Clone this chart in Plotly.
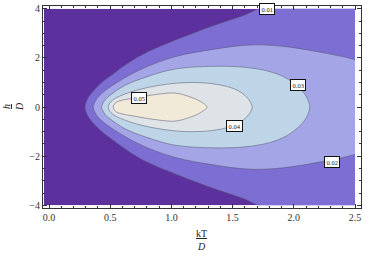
import plotly.graph_objects as go

# ---------------- data ----------------
# extent of the filled field, kT/D horizontally and h/D vertically
T_EXTENT = [-0.04, 2.5]
H_EXTENT = [-4.0, 4.0]

# contour levels and the upper half of each contour line: kT/D -> h/D
# (the field is symmetric in h, the lower half is the mirror image)
LEVELS = [0.01, 0.02, 0.03, 0.04, 0.05]

T_001 = [0.294, 0.30, 0.32, 0.376, 0.45, 0.525, 0.62, 0.73, 0.85, 1.07, 1.34, 1.615, 1.71, 2.0, 2.5, 3.0]
H_001 = [0.00, 0.15, 0.38, 0.73, 1.08, 1.35, 1.70, 2.05, 2.35, 2.80, 3.31, 3.78, 4.00, 4.45, 5.0, 5.5]

T_002 = [0.362, 0.37, 0.39, 0.43, 0.54, 0.757, 1.03, 1.34, 1.64, 1.90, 2.2, 2.5, 2.75, 3.0]
H_002 = [0.00, 0.15, 0.33, 0.55, 0.95, 1.55, 2.05, 2.35, 2.53, 2.48, 2.25, 1.93, 1.5, 1.0]

T_003 = [0.43, 0.44, 0.46, 0.50, 0.62, 0.81, 1.03, 1.35, 1.60, 1.80, 1.93, 2.03, 2.10, 2.13]
H_003 = [0.00, 0.15, 0.30, 0.48, 0.88, 1.25, 1.55, 1.66, 1.62, 1.45, 1.20, 0.85, 0.45, 0.00]

T_004 = [0.485, 0.495, 0.52, 0.566, 0.757, 1.03, 1.25, 1.40, 1.515, 1.60, 1.66]
H_004 = [0.00, 0.15, 0.28, 0.42, 0.74, 0.97, 0.99, 0.90, 0.74, 0.48, 0.00]

T_005 = [0.525, 0.535, 0.56, 0.733, 0.90, 1.03, 1.15, 1.24, 1.29]
H_005 = [0.00, 0.12, 0.22, 0.40, 0.53, 0.57, 0.42, 0.22, 0.00]

CONTOURS_T = [T_001, T_002, T_003, T_004, T_005]
CONTOURS_H = [H_001, H_002, H_003, H_004, H_005]
CLOSED = [False, False, True, True, True]

# contour labels: text and the point of the line where each sits
LABEL_TEXT = ["0.01", "0.02", "0.03", "0.04", "0.05"]
LABEL_T = [1.785, 2.312, 2.034, 1.515, 0.733]
LABEL_H = [4.0, -2.25, 0.896, -0.757, 0.37]

# ---------------- style ----------------
BAND_COLORS = ["#5d319d", "#7d6ed3", "#a4a5e6", "#bed5e8", "#dde3e6", "#f2ead8"]
LINE_COLOR = "rgba(85,85,110,0.65)"
FONT = "Liberation Serif"
W, H = 382, 265


def ring(ts, hs, closed):
    """Closed outline of one contour region from its upper half."""
    n = len(ts)
    upper = list(zip(ts, hs))
    if closed:
        lower = [(t, -h) for t, h in zip(ts[-2:0:-1], hs[-2:0:-1])]
        pts = upper + lower
        # start on the flat top of the contour so the path closes smoothly
        k = max(range(n), key=lambda i: hs[i])
        pts = pts[k:] + pts[:k]
        pts = pts + [pts[0]]
    else:
        lower = [(t, -h) for t, h in zip(ts[::-1], hs[::-1])]
        pts = lower + upper
    return [p[0] for p in pts], [p[1] for p in pts]


fig = go.Figure()

# background band (below the lowest level)
fig.add_trace(go.Scatter(
    x=[T_EXTENT[0], T_EXTENT[1], T_EXTENT[1], T_EXTENT[0], T_EXTENT[0]],
    y=[H_EXTENT[0], H_EXTENT[0], H_EXTENT[1], H_EXTENT[1], H_EXTENT[0]],
    mode="lines", fill="toself", fillcolor=BAND_COLORS[0],
    line=dict(width=0), hoverinfo="skip", showlegend=False,
    xaxis="x", yaxis="y"))

for i, lev in enumerate(LEVELS):
    xs, ys = ring(CONTOURS_T[i], CONTOURS_H[i], CLOSED[i])
    fig.add_trace(go.Scatter(
        x=xs, y=ys, mode="lines", fill="toself",
        fillcolor=BAND_COLORS[i + 1],
        line=dict(color=LINE_COLOR, width=0.8, shape="spline", smoothing=1.0),
        hoverinfo="skip", showlegend=False, name=str(lev),
        xaxis="x", yaxis="y"))

# empty trace so that the frame subplot is drawn
fig.add_trace(go.Scatter(x=[None], y=[None], xaxis="x2", yaxis="y2",
                         showlegend=False, hoverinfo="skip"))

for txt, t, h in zip(LABEL_TEXT, LABEL_T, LABEL_H):
    fig.add_annotation(x=t, y=h, xref="x", yref="y", text=txt, showarrow=False,
                       font=dict(family=FONT, size=6.5, color="#222"),
                       bgcolor="white", bordercolor="#111", borderwidth=1, borderpad=1.5)

# axis titles as stacked fractions
fig.add_annotation(x=202 / W, y=(H - 242) / H, xref="paper", yref="paper",
                   text="<u>kT</u><br><i>D</i>", showarrow=False,
                   font=dict(family=FONT, size=10, color="#222"),
                   xanchor="center", yanchor="middle")
fig.add_annotation(x=13 / W, y=(H - 106.5) / H, xref="paper", yref="paper",
                   text="<u><i>h</i></u><br><i>D</i>", showarrow=False, textangle=-90,
                   font=dict(family=FONT, size=10, color="#222"),
                   xanchor="center", yanchor="middle")

# data axes: exactly the filled region
fig.update_layout(
    xaxis=dict(domain=[44 / W, 355 / W], range=T_EXTENT, visible=False, fixedrange=True),
    yaxis=dict(domain=[(H - 207) / H, (H - 6) / H], range=H_EXTENT, visible=False,
               anchor="x", fixedrange=True),
    # frame axes with ticks
    xaxis2=dict(domain=[43 / W, 361 / W], range=[-0.049, 2.549], anchor="y2",
                showline=True, linecolor="#333", linewidth=1, mirror="ticks",
                ticks="inside", ticklen=4, tickcolor="#333", tickwidth=1,
                tick0=0, dtick=0.5, tickformat=".1f", showgrid=False, zeroline=False,
                tickfont=dict(family=FONT, size=10, color="#333"), fixedrange=True,
                minor=dict(ticks="inside", ticklen=2, dtick=0.1, tick0=0,
                           tickcolor="#333", showgrid=False)),
    yaxis2=dict(domain=[(H - 210) / H, (H - 3) / H], range=[-4.12, 4.12], anchor="x2",
                showline=True, linecolor="#333", linewidth=1, mirror="ticks",
                ticks="inside", ticklen=4, tickcolor="#333", tickwidth=1,
                tick0=0, dtick=2, showgrid=False, zeroline=False,
                tickfont=dict(family=FONT, size=10, color="#333"), fixedrange=True,
                minor=dict(ticks="inside", ticklen=2, dtick=0.5, tick0=0,
                           tickcolor="#333", showgrid=False)),
    width=W, height=H, autosize=False,
    margin=dict(l=0, r=0, t=0, b=0),
    paper_bgcolor="white", plot_bgcolor="rgba(0,0,0,0)",
    showlegend=False,
)

fig.write_html("out.html", config={"displayModeBar": False, "staticPlot": True},
               post_script="document.body.style.margin='0';")
